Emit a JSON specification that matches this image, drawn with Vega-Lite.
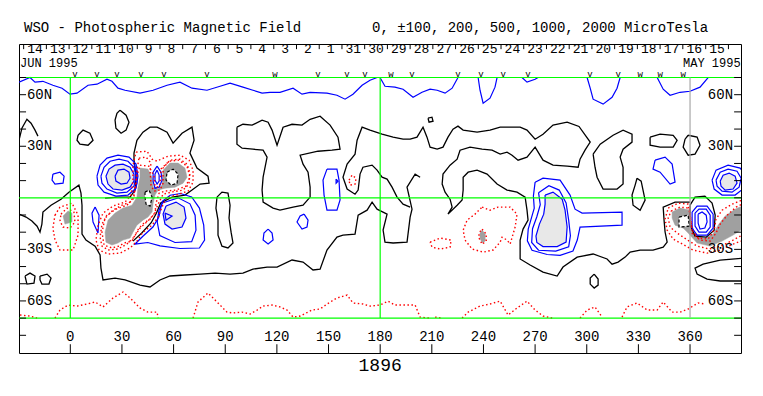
{
"$schema":"https://vega.github.io/schema/vega-lite/v6.json",
"width":722,"height":309,
"autosize":{"type":"none"},
"padding":{"left":19,"top":44,"right":22,"bottom":43},
"background":"white",
"config":{"view":{"stroke":"black","strokeWidth":1},"font":"Liberation Mono"},
"datasets":{
"fills":[
{"c":"G1","f":"d","x":40.5,"y":17.3},{"c":"G1","f":"d","x":45.1,"y":16.7},{"c":"G1","f":"d","x":47.5,"y":12.0},{"c":"G1","f":"d","x":48.1,"y":6.2},{"c":"G1","f":"d","x":51.0,"y":5.1},{"c":"G1","f":"d","x":53.3,"y":7.4},{"c":"G1","f":"d","x":53.9,"y":16.1},{"c":"G1","f":"d","x":57.9,"y":20.2},{"c":"G1","f":"d","x":62.6,"y":20.2},{"c":"G1","f":"d","x":66.6,"y":17.3},{"c":"G1","f":"d","x":67.8,"y":12.0},{"c":"G1","f":"d","x":65.5,"y":8.5},{"c":"G1","f":"d","x":60.8,"y":6.2},{"c":"G1","f":"d","x":55.0,"y":5.6},{"c":"G1","f":"d","x":51.0,"y":4.5},{"c":"G1","f":"d","x":49.2,"y":1.6},{"c":"G1","f":"d","x":48.1,"y":-3.1},{"c":"G1","f":"d","x":47.5,"y":-8.3},{"c":"G1","f":"d","x":45.1,"y":-11.2},{"c":"G1","f":"d","x":42.2,"y":-13.0},{"c":"G1","f":"d","x":38.7,"y":-15.9},{"c":"G1","f":"d","x":36.4,"y":-20.0},{"c":"G1","f":"d","x":34.7,"y":-23.4},{"c":"G1","f":"d","x":30.6,"y":-24.6},{"c":"G1","f":"d","x":27.7,"y":-26.3},{"c":"G1","f":"d","x":24.2,"y":-27.5},{"c":"G1","f":"d","x":20.7,"y":-25.8},{"c":"G1","f":"d","x":20.2,"y":-20.0},{"c":"G1","f":"d","x":21.9,"y":-13.0},{"c":"G1","f":"d","x":26.0,"y":-8.9},{"c":"G1","f":"d","x":30.6,"y":-6.0},{"c":"G1","f":"d","x":35.8,"y":-4.3},{"c":"G1","f":"d","x":38.7,"y":0.4},{"c":"G1","f":"d","x":39.3,"y":6.2},{"c":"G1","f":"d","x":40.5,"y":12.0},{"c":"G1","f":"d","x":40.5,"y":17.3},
{"c":"G2","f":"d","x":-4.2,"y":-10.6},{"c":"G2","f":"d","x":-1.3,"y":-7.7},{"c":"G2","f":"d","x":1.0,"y":-8.9},{"c":"G2","f":"d","x":1.0,"y":-14.1},{"c":"G2","f":"d","x":-3.1,"y":-15.3},{"c":"G2","f":"d","x":-4.2,"y":-10.6},
{"c":"G3","f":"d","x":239.2,"y":-18.8},{"c":"G3","f":"d","x":241.0,"y":-21.1},{"c":"G3","f":"d","x":241.0,"y":-25.2},{"c":"G3","f":"d","x":239.2,"y":-26.3},{"c":"G3","f":"d","x":238.0,"y":-23.4},{"c":"G3","f":"d","x":238.0,"y":-20.5},{"c":"G3","f":"d","x":239.2,"y":-18.8},
{"c":"G4","f":"d","x":349.6,"y":-8.3},{"c":"G4","f":"d","x":354.2,"y":-6.0},{"c":"G4","f":"d","x":360.0,"y":-7.2},{"c":"G4","f":"d","x":360.6,"y":-14.1},{"c":"G4","f":"d","x":362.9,"y":-21.1},{"c":"G4","f":"d","x":368.2,"y":-23.4},{"c":"G4","f":"d","x":373.4,"y":-21.1},{"c":"G4","f":"d","x":376.3,"y":-15.9},{"c":"G4","f":"d","x":380.4,"y":-10.6},{"c":"G4","f":"d","x":386.2,"y":-6.6},{"c":"G4","f":"d","x":391.4,"y":-4.3},{"c":"G4","f":"d","x":391.4,"y":-17.6},{"c":"G4","f":"d","x":385.0,"y":-21.7},{"c":"G4","f":"d","x":378.6,"y":-25.2},{"c":"G4","f":"d","x":371.7,"y":-28.1},{"c":"G4","f":"d","x":364.1,"y":-26.3},{"c":"G4","f":"d","x":358.9,"y":-20.5},{"c":"G4","f":"d","x":356.0,"y":-17.6},{"c":"G4","f":"d","x":351.3,"y":-15.9},{"c":"G4","f":"d","x":349.6,"y":-11.8},{"c":"G4","f":"d","x":349.6,"y":-8.3},
{"c":"LF1","f":"l","x":275.8,"y":1.6},{"c":"LF1","f":"l","x":280.4,"y":3.3},{"c":"LF1","f":"l","x":285.7,"y":-0.8},{"c":"LF1","f":"l","x":287.4,"y":-7.2},{"c":"LF1","f":"l","x":288.6,"y":-17.0},{"c":"LF1","f":"l","x":288.0,"y":-25.8},{"c":"LF1","f":"l","x":282.8,"y":-28.4},{"c":"LF1","f":"l","x":274.6,"y":-28.4},{"c":"LF1","f":"l","x":271.0,"y":-26.0},{"c":"LF1","f":"l","x":270.5,"y":-22.3},{"c":"LF1","f":"l","x":272.5,"y":-15.3},{"c":"LF1","f":"l","x":275.0,"y":-9.5},{"c":"LF1","f":"l","x":275.8,"y":-3.7},{"c":"LF1","f":"l","x":275.8,"y":1.6},
{"c":"LF2","f":"l","x":20.7,"y":12.6},{"c":"LF2","f":"l","x":22.5,"y":16.7},{"c":"LF2","f":"l","x":26.0,"y":19.0},{"c":"LF2","f":"l","x":30.6,"y":19.6},{"c":"LF2","f":"l","x":34.7,"y":17.8},{"c":"LF2","f":"l","x":37.0,"y":13.8},{"c":"LF2","f":"l","x":37.0,"y":9.7},{"c":"LF2","f":"l","x":34.7,"y":6.2},{"c":"LF2","f":"l","x":30.0,"y":4.5},{"c":"LF2","f":"l","x":24.8,"y":5.1},{"c":"LF2","f":"l","x":21.9,"y":8.0},{"c":"LF2","f":"l","x":20.7,"y":12.6},
{"c":"LF3","f":"l","x":55.6,"y":-4.8},{"c":"LF3","f":"l","x":61.4,"y":-2.5},{"c":"LF3","f":"l","x":66.1,"y":-5.4},{"c":"LF3","f":"l","x":67.2,"y":-11.8},{"c":"LF3","f":"l","x":64.9,"y":-17.0},{"c":"LF3","f":"l","x":59.1,"y":-18.2},{"c":"LF3","f":"l","x":55.0,"y":-15.3},{"c":"LF3","f":"l","x":53.9,"y":-9.5},{"c":"LF3","f":"l","x":55.6,"y":-4.8},
{"c":"LF4","f":"l","x":377.5,"y":9.7},{"c":"LF4","f":"l","x":379.2,"y":13.2},{"c":"LF4","f":"l","x":382.7,"y":14.4},{"c":"LF4","f":"l","x":386.2,"y":12.6},{"c":"LF4","f":"l","x":387.3,"y":8.5},{"c":"LF4","f":"l","x":385.0,"y":5.1},{"c":"LF4","f":"l","x":380.4,"y":4.5},{"c":"LF4","f":"l","x":378.0,"y":6.8},{"c":"LF4","f":"l","x":377.5,"y":9.7},
{"c":"D1","f":"w","x":43.4,"y":3.3},{"c":"D1","f":"w","x":45.7,"y":4.5},{"c":"D1","f":"w","x":47.5,"y":0.4},{"c":"D1","f":"w","x":46.3,"y":-4.8},{"c":"D1","f":"w","x":44.0,"y":-3.7},{"c":"D1","f":"w","x":43.4,"y":0.4},{"c":"D1","f":"w","x":43.4,"y":3.3},
{"c":"D2","f":"w","x":56.2,"y":14.9},{"c":"D2","f":"w","x":59.7,"y":16.7},{"c":"D2","f":"w","x":62.6,"y":13.8},{"c":"D2","f":"w","x":62.0,"y":8.5},{"c":"D2","f":"w","x":58.5,"y":7.4},{"c":"D2","f":"w","x":55.6,"y":10.3},{"c":"D2","f":"w","x":56.2,"y":14.9},
{"c":"D3","f":"w","x":353.6,"y":-11.2},{"c":"D3","f":"w","x":358.9,"y":-10.1},{"c":"D3","f":"w","x":359.5,"y":-16.5},{"c":"D3","f":"w","x":353.6,"y":-17.0},{"c":"D3","f":"w","x":353.6,"y":-11.2}
],
"lines":[
{"c":"B1","k":"b","x":-29.8,"y":67.3},{"c":"B1","k":"b","x":-23.4,"y":70.0},{"c":"B1","k":"b","x":-20.5,"y":67.3},{"c":"B1","k":"b","x":-15.9,"y":67.8},{"c":"B1","k":"b","x":-10.1,"y":65.5},{"c":"B1","k":"b","x":-4.8,"y":63.8},{"c":"B1","k":"b","x":-0.2,"y":60.3},{"c":"B1","k":"b","x":3.9,"y":60.9},{"c":"B1","k":"b","x":10.3,"y":65.5},{"c":"B1","k":"b","x":15.5,"y":66.1},{"c":"B1","k":"b","x":21.3,"y":69.0},{"c":"B1","k":"b","x":24.2,"y":67.8},{"c":"B1","k":"b","x":27.7,"y":63.8},{"c":"B1","k":"b","x":31.8,"y":62.6},{"c":"B1","k":"b","x":40.5,"y":60.9},{"c":"B1","k":"b","x":48.1,"y":62.6},{"c":"B1","k":"b","x":56.2,"y":65.5},{"c":"B1","k":"b","x":63.7,"y":67.3},{"c":"B1","k":"b","x":70.7,"y":63.8},{"c":"B1","k":"b","x":79.4,"y":62.6},{"c":"B1","k":"b","x":87.0,"y":64.9},{"c":"B1","k":"b","x":92.8,"y":66.7},{"c":"B1","k":"b","x":100.3,"y":64.4},{"c":"B1","k":"b","x":106.1,"y":62.6},{"c":"B1","k":"b","x":111.4,"y":60.9},{"c":"B1","k":"b","x":116.0,"y":61.4},{"c":"B1","k":"b","x":121.8,"y":61.4},{"c":"B1","k":"b","x":129.4,"y":63.8},{"c":"B1","k":"b","x":134.6,"y":60.3},{"c":"B1","k":"b","x":139.3,"y":61.4},{"c":"B1","k":"b","x":149.1,"y":60.9},{"c":"B1","k":"b","x":154.9,"y":59.7},{"c":"B1","k":"b","x":159.6,"y":57.4},{"c":"B1","k":"b","x":164.2,"y":60.3},{"c":"B1","k":"b","x":169.5,"y":65.5},{"c":"B1","k":"b","x":174.1,"y":68.4},{"c":"B1","k":"b","x":178.2,"y":70.0},
{"c":"B2","k":"b","x":179.9,"y":70},{"c":"B2","k":"b","x":182.8,"y":64.9},{"c":"B2","k":"b","x":188.6,"y":64.4},{"c":"B2","k":"b","x":193.3,"y":63.2},{"c":"B2","k":"b","x":199.1,"y":58.5},{"c":"B2","k":"b","x":204.3,"y":61.4},{"c":"B2","k":"b","x":209.0,"y":63.2},{"c":"B2","k":"b","x":213.1,"y":62.6},{"c":"B2","k":"b","x":217.7,"y":60.9},{"c":"B2","k":"b","x":221.8,"y":63.8},{"c":"B2","k":"b","x":225.2,"y":70},
{"c":"B3","k":"b","x":236.9,"y":70},{"c":"B3","k":"b","x":238.0,"y":62.6},{"c":"B3","k":"b","x":239.8,"y":55.1},{"c":"B3","k":"b","x":243.8,"y":58.0},{"c":"B3","k":"b","x":246.7,"y":64.4},{"c":"B3","k":"b","x":247.9,"y":70},
{"c":"B4","k":"b","x":262.4,"y":70},{"c":"B4","k":"b","x":265.3,"y":67.3},{"c":"B4","k":"b","x":270.0,"y":69.0},{"c":"B4","k":"b","x":271.7,"y":70},
{"c":"B5","k":"b","x":300.2,"y":70},{"c":"B5","k":"b","x":302.0,"y":63.8},{"c":"B5","k":"b","x":303.7,"y":57.4},{"c":"B5","k":"b","x":309.5,"y":54.5},{"c":"B5","k":"b","x":314.7,"y":58.5},{"c":"B5","k":"b","x":317.6,"y":63.8},{"c":"B5","k":"b","x":319.4,"y":70},
{"c":"B6","k":"b","x":340.9,"y":70},{"c":"B6","k":"b","x":344.4,"y":63.2},{"c":"B6","k":"b","x":348.4,"y":59.7},{"c":"B6","k":"b","x":354.2,"y":61.4},{"c":"B6","k":"b","x":360.0,"y":62.0},{"c":"B6","k":"b","x":365.8,"y":64.4},{"c":"B6","k":"b","x":370.5,"y":70},
{"c":"B7","k":"b","x":-10.1,"y":13.8},{"c":"B7","k":"b","x":-6.0,"y":14.9},{"c":"B7","k":"b","x":-3.6,"y":12.6},{"c":"B7","k":"b","x":-4.2,"y":8.5},{"c":"B7","k":"b","x":-8.9,"y":8.0},{"c":"B7","k":"b","x":-10.6,"y":10.3},{"c":"B7","k":"b","x":-10.1,"y":13.8},
{"c":"B8","k":"b","x":14.4,"y":-5.4},{"c":"B8","k":"b","x":16.7,"y":-10.1},{"c":"B8","k":"b","x":16.1,"y":-20.5},{"c":"B8","k":"b","x":13.2,"y":-14.1},{"c":"B8","k":"b","x":12.6,"y":-8.9},{"c":"B8","k":"b","x":14.4,"y":-5.4},
{"c":"B9","k":"b","x":114.9,"y":-18.2},{"c":"B9","k":"b","x":117.2,"y":-20.5},{"c":"B9","k":"b","x":117.8,"y":-24.6},{"c":"B9","k":"b","x":114.9,"y":-26.9},{"c":"B9","k":"b","x":112.0,"y":-24.6},{"c":"B9","k":"b","x":112.5,"y":-20.5},{"c":"B9","k":"b","x":114.9,"y":-18.2},
{"c":"B10","k":"b","x":135.8,"y":-9.5},{"c":"B10","k":"b","x":138.1,"y":-13.0},{"c":"B10","k":"b","x":137.5,"y":-17.0},{"c":"B10","k":"b","x":134.6,"y":-18.2},{"c":"B10","k":"b","x":131.7,"y":-14.1},{"c":"B10","k":"b","x":133.5,"y":-10.6},{"c":"B10","k":"b","x":135.8,"y":-9.5},
{"c":"B11","k":"b","x":149.1,"y":16.7},{"c":"B11","k":"b","x":154.9,"y":16.7},{"c":"B11","k":"b","x":156.1,"y":10.3},{"c":"B11","k":"b","x":156.7,"y":-1.3},{"c":"B11","k":"b","x":154.9,"y":-7.2},{"c":"B11","k":"b","x":149.1,"y":-7.2},{"c":"B11","k":"b","x":147.4,"y":1.6},{"c":"B11","k":"b","x":146.8,"y":10.3},{"c":"B11","k":"b","x":149.1,"y":16.7},
{"c":"B11b","k":"b","x":154.4,"y":10.9},{"c":"B11b","k":"b","x":155.5,"y":9.7},{"c":"B11b","k":"b","x":154.4,"y":8.5},{"c":"B11b","k":"b","x":154.4,"y":10.9},
{"c":"B12","k":"b","x":339.7,"y":21.9},{"c":"B12","k":"b","x":345.5,"y":23.7},{"c":"B12","k":"b","x":349.6,"y":19.6},{"c":"B12","k":"b","x":351.3,"y":9.1},{"c":"B12","k":"b","x":348.4,"y":8.0},{"c":"B12","k":"b","x":342.6,"y":14.9},{"c":"B12","k":"b","x":338.5,"y":16.7},{"c":"B12","k":"b","x":339.7,"y":21.9},
{"c":"B13","k":"b","x":270.0,"y":9.1},{"c":"B13","k":"b","x":274.6,"y":11.4},{"c":"B13","k":"b","x":284.5,"y":10.3},{"c":"B13","k":"b","x":290.3,"y":1.6},{"c":"B13","k":"b","x":293.2,"y":-6.6},{"c":"B13","k":"b","x":297.3,"y":-8.9},{"c":"B13","k":"b","x":320.5,"y":-8.3},{"c":"B13","k":"b","x":320.5,"y":-15.9},{"c":"B13","k":"b","x":296.1,"y":-17.0},{"c":"B13","k":"b","x":294.5,"y":-24.6},{"c":"B13","k":"b","x":292.0,"y":-31.0},{"c":"B13","k":"b","x":284.5,"y":-33.5},{"c":"B13","k":"b","x":277.0,"y":-33.0},{"c":"B13","k":"b","x":268.2,"y":-30.5},{"c":"B13","k":"b","x":265.5,"y":-25.0},{"c":"B13","k":"b","x":266.0,"y":-18.2},{"c":"B13","k":"b","x":268.0,"y":-11.2},{"c":"B13","k":"b","x":269.5,"y":-6.0},{"c":"B13","k":"b","x":269.0,"y":1.0},{"c":"B13","k":"b","x":270.0,"y":9.1},
{"c":"B14","k":"b","x":272.0,"y":3.0},{"c":"B14","k":"b","x":278.0,"y":7.0},{"c":"B14","k":"b","x":284.0,"y":4.5},{"c":"B14","k":"b","x":288.0,"y":-3.0},{"c":"B14","k":"b","x":289.5,"y":-13.0},{"c":"B14","k":"b","x":290.5,"y":-22.0},{"c":"B14","k":"b","x":289.5,"y":-28.5},{"c":"B14","k":"b","x":282.0,"y":-31.0},{"c":"B14","k":"b","x":272.0,"y":-30.5},{"c":"B14","k":"b","x":268.0,"y":-26.0},{"c":"B14","k":"b","x":268.5,"y":-18.0},{"c":"B14","k":"b","x":271.0,"y":-11.0},{"c":"B14","k":"b","x":273.0,"y":-4.0},{"c":"B14","k":"b","x":272.0,"y":3.0},
{"c":"L1","k":"b","x":15.5,"y":12.6},{"c":"L1","k":"b","x":17.3,"y":19.0},{"c":"L1","k":"b","x":21.3,"y":23.1},{"c":"L1","k":"b","x":27.7,"y":24.8},{"c":"L1","k":"b","x":34.1,"y":23.7},{"c":"L1","k":"b","x":38.2,"y":19.6},{"c":"L1","k":"b","x":39.3,"y":12.6},{"c":"L1","k":"b","x":38.2,"y":5.6},{"c":"L1","k":"b","x":33.5,"y":1.6},{"c":"L1","k":"b","x":26.5,"y":1.0},{"c":"L1","k":"b","x":19.6,"y":3.3},{"c":"L1","k":"b","x":16.1,"y":7.4},{"c":"L1","k":"b","x":15.5,"y":12.6},
{"c":"L2","k":"b","x":17.8,"y":12.6},{"c":"L2","k":"b","x":19.6,"y":17.8},{"c":"L2","k":"b","x":23.1,"y":21.3},{"c":"L2","k":"b","x":28.3,"y":22.5},{"c":"L2","k":"b","x":33.5,"y":21.3},{"c":"L2","k":"b","x":37.0,"y":17.8},{"c":"L2","k":"b","x":38.2,"y":12.6},{"c":"L2","k":"b","x":37.0,"y":6.8},{"c":"L2","k":"b","x":32.9,"y":3.3},{"c":"L2","k":"b","x":27.1,"y":2.7},{"c":"L2","k":"b","x":21.3,"y":5.1},{"c":"L2","k":"b","x":18.4,"y":8.5},{"c":"L2","k":"b","x":17.8,"y":12.6},
{"c":"L4","k":"b","x":26.0,"y":12.6},{"c":"L4","k":"b","x":27.7,"y":16.1},{"c":"L4","k":"b","x":31.2,"y":16.7},{"c":"L4","k":"b","x":34.1,"y":14.9},{"c":"L4","k":"b","x":34.7,"y":11.4},{"c":"L4","k":"b","x":32.9,"y":8.5},{"c":"L4","k":"b","x":29.5,"y":8.0},{"c":"L4","k":"b","x":26.5,"y":9.7},{"c":"L4","k":"b","x":26.0,"y":12.6},
{"c":"C1","k":"b","x":37.0,"y":19.6},{"c":"C1","k":"b","x":38.7,"y":14.4},{"c":"C1","k":"b","x":38.7,"y":8.5},{"c":"C1","k":"b","x":37.0,"y":2.7},
{"c":"LN1","k":"b","x":50.4,"y":18.4},{"c":"LN1","k":"b","x":52.7,"y":14.9},{"c":"LN1","k":"b","x":53.3,"y":10.3},{"c":"LN1","k":"b","x":51.6,"y":6.2},{"c":"LN1","k":"b","x":49.2,"y":5.6},{"c":"LN1","k":"b","x":48.1,"y":9.7},{"c":"LN1","k":"b","x":48.1,"y":14.9},{"c":"LN1","k":"b","x":50.4,"y":18.4},
{"c":"LN2","k":"b","x":50.4,"y":16.1},{"c":"LN2","k":"b","x":51.6,"y":13.2},{"c":"LN2","k":"b","x":51.6,"y":9.7},{"c":"LN2","k":"b","x":50.4,"y":8.0},{"c":"LN2","k":"b","x":49.2,"y":10.3},{"c":"LN2","k":"b","x":49.2,"y":13.8},{"c":"LN2","k":"b","x":50.4,"y":16.1},
{"c":"S1","k":"b","x":53.5,"y":-2.0},{"c":"S1","k":"b","x":58.0,"y":1.5},{"c":"S1","k":"b","x":64.0,"y":2.5},{"c":"S1","k":"b","x":70.5,"y":0.5},{"c":"S1","k":"b","x":75.0,"y":-6.0},{"c":"S1","k":"b","x":77.5,"y":-15.9},{"c":"S1","k":"b","x":78.0,"y":-24.6},{"c":"S1","k":"b","x":75.0,"y":-29.2},{"c":"S1","k":"b","x":63.7,"y":-29.5},{"c":"S1","k":"b","x":52.1,"y":-28.0},{"c":"S1","k":"b","x":45.0,"y":-26.0},{"c":"S1","k":"b","x":37.5,"y":-27.0},{"c":"S1","k":"b","x":42.0,"y":-22.5},{"c":"S1","k":"b","x":48.0,"y":-17.0},{"c":"S1","k":"b","x":51.5,"y":-11.0},{"c":"S1","k":"b","x":52.5,"y":-6.0},{"c":"S1","k":"b","x":53.5,"y":-2.0},
{"c":"S2","k":"b","x":53.5,"y":-3.0},{"c":"S2","k":"b","x":62.6,"y":0.0},{"c":"S2","k":"b","x":69.5,"y":-3.5},{"c":"S2","k":"b","x":72.5,"y":-10.1},{"c":"S2","k":"b","x":73.0,"y":-18.8},{"c":"S2","k":"b","x":70.5,"y":-25.5},{"c":"S2","k":"b","x":60.8,"y":-26.0},{"c":"S2","k":"b","x":52.0,"y":-22.0},{"c":"S2","k":"b","x":50.5,"y":-14.1},{"c":"S2","k":"b","x":51.5,"y":-7.2},{"c":"S2","k":"b","x":53.5,"y":-3.0},
{"c":"S4","k":"b","x":55.0,"y":-8.9},{"c":"S4","k":"b","x":59.1,"y":-10.6},{"c":"S4","k":"b","x":55.6,"y":-13.0},{"c":"S4","k":"b","x":55.0,"y":-8.9},
{"c":"O1","k":"b","x":361.2,"y":-8.3},{"c":"O1","k":"b","x":364.1,"y":-4.8},{"c":"O1","k":"b","x":369.9,"y":-4.8},{"c":"O1","k":"b","x":373.4,"y":-9.5},{"c":"O1","k":"b","x":373.4,"y":-17.6},{"c":"O1","k":"b","x":369.9,"y":-21.7},{"c":"O1","k":"b","x":364.1,"y":-21.7},{"c":"O1","k":"b","x":361.2,"y":-17.6},{"c":"O1","k":"b","x":361.2,"y":-8.3},
{"c":"O2","k":"b","x":362.9,"y":-8.9},{"c":"O2","k":"b","x":365.2,"y":-6.6},{"c":"O2","k":"b","x":369.4,"y":-6.6},{"c":"O2","k":"b","x":371.7,"y":-10.1},{"c":"O2","k":"b","x":371.7,"y":-17.0},{"c":"O2","k":"b","x":369.4,"y":-20.0},{"c":"O2","k":"b","x":365.2,"y":-20.0},{"c":"O2","k":"b","x":362.9,"y":-16.5},{"c":"O2","k":"b","x":362.9,"y":-8.9},
{"c":"O3","k":"b","x":364.7,"y":-9.5},{"c":"O3","k":"b","x":367.0,"y":-8.3},{"c":"O3","k":"b","x":369.4,"y":-10.1},{"c":"O3","k":"b","x":369.9,"y":-14.1},{"c":"O3","k":"b","x":368.6,"y":-17.6},{"c":"O3","k":"b","x":365.8,"y":-18.2},{"c":"O3","k":"b","x":364.7,"y":-14.7},{"c":"O3","k":"b","x":364.7,"y":-9.5},
{"c":"E1","k":"b","x":372.8,"y":10.3},{"c":"E1","k":"b","x":375.1,"y":16.1},{"c":"E1","k":"b","x":382.1,"y":19.0},{"c":"E1","k":"b","x":389.1,"y":17.3},{"c":"E1","k":"b","x":392.6,"y":12.6},{"c":"E1","k":"b","x":391.4,"y":5.6},{"c":"E1","k":"b","x":386.2,"y":1.6},{"c":"E1","k":"b","x":378.6,"y":1.6},{"c":"E1","k":"b","x":374.0,"y":5.1},{"c":"E1","k":"b","x":372.8,"y":10.3},
{"c":"E2","k":"b","x":375.1,"y":10.3},{"c":"E2","k":"b","x":377.5,"y":14.9},{"c":"E2","k":"b","x":382.1,"y":16.7},{"c":"E2","k":"b","x":387.3,"y":15.5},{"c":"E2","k":"b","x":389.7,"y":11.4},{"c":"E2","k":"b","x":388.5,"y":6.2},{"c":"E2","k":"b","x":384.4,"y":3.3},{"c":"E2","k":"b","x":378.6,"y":3.9},{"c":"E2","k":"b","x":375.7,"y":6.8},{"c":"E2","k":"b","x":375.1,"y":10.3},
{"c":"KA","k":"k","x":-29.8,"y":33.5},{"c":"KA","k":"k","x":-28.1,"y":40.5},{"c":"KA","k":"k","x":-25.2,"y":45.7},{"c":"KA","k":"k","x":-22.8,"y":43.4},{"c":"KA","k":"k","x":-20.5,"y":39.4},{"c":"KA","k":"k","x":-18.8,"y":35.9},
{"c":"KB","k":"k","x":4.5,"y":36.4},{"c":"KB","k":"k","x":7.4,"y":39.4},{"c":"KB","k":"k","x":11.4,"y":37.6},{"c":"KB","k":"k","x":13.2,"y":33.5},{"c":"KB","k":"k","x":10.3,"y":30.6},{"c":"KB","k":"k","x":5.6,"y":31.2},{"c":"KB","k":"k","x":3.9,"y":33.5},{"c":"KB","k":"k","x":4.5,"y":36.4},
{"c":"KC","k":"k","x":28.9,"y":51.0},{"c":"KC","k":"k","x":32.4,"y":48.1},{"c":"KC","k":"k","x":34.1,"y":44.0},{"c":"KC","k":"k","x":32.4,"y":39.4},{"c":"KC","k":"k","x":29.5,"y":37.6},{"c":"KC","k":"k","x":26.5,"y":40.5},{"c":"KC","k":"k","x":26.0,"y":45.2},{"c":"KC","k":"k","x":27.1,"y":49.2},{"c":"KC","k":"k","x":28.9,"y":51.0},
{"c":"KD1","k":"k","x":-26.3,"y":-45.5},{"c":"KD1","k":"k","x":-23.4,"y":-43.8},{"c":"KD1","k":"k","x":-20.5,"y":-45.5},{"c":"KD1","k":"k","x":-21.1,"y":-49.6},{"c":"KD1","k":"k","x":-25.2,"y":-50.2},{"c":"KD1","k":"k","x":-26.3,"y":-45.5},
{"c":"KD2","k":"k","x":-17.6,"y":-45.5},{"c":"KD2","k":"k","x":-13.5,"y":-44.4},{"c":"KD2","k":"k","x":-11.2,"y":-46.7},{"c":"KD2","k":"k","x":-12.4,"y":-50.2},{"c":"KD2","k":"k","x":-16.5,"y":-50.2},{"c":"KD2","k":"k","x":-17.6,"y":-47.8},{"c":"KD2","k":"k","x":-17.6,"y":-45.5},
{"c":"KE","k":"k","x":-29.8,"y":-9.5},{"c":"KE","k":"k","x":-25.7,"y":-11.2},{"c":"KE","k":"k","x":-22.3,"y":-13.5},{"c":"KE","k":"k","x":-19.3,"y":-16.5},{"c":"KE","k":"k","x":-17.6,"y":-20.0},{"c":"KE","k":"k","x":-16.5,"y":-15.3},{"c":"KE","k":"k","x":-15.9,"y":-8.3},{"c":"KE","k":"k","x":-11.2,"y":-4.3},{"c":"KE","k":"k","x":-5.4,"y":-0.8},{"c":"KE","k":"k","x":-0.8,"y":3.3},{"c":"KE","k":"k","x":5.0,"y":7.4},{"c":"KE","k":"k","x":6.2,"y":2.7},{"c":"KE","k":"k","x":6.8,"y":-4.3},{"c":"KE","k":"k","x":6.8,"y":-13.0},{"c":"KE","k":"k","x":6.8,"y":-21.1},{"c":"KE","k":"k","x":9.1,"y":-24.6},{"c":"KE","k":"k","x":14.4,"y":-28.1},{"c":"KE","k":"k","x":17.3,"y":-33.3},{"c":"KE","k":"k","x":17.8,"y":-40.9},{"c":"KE","k":"k","x":19.0,"y":-47.8},{"c":"KE","k":"k","x":26.0,"y":-46.7},{"c":"KE","k":"k","x":31.8,"y":-47.8},{"c":"KE","k":"k","x":40.5,"y":-50.8},{"c":"KE","k":"k","x":46.3,"y":-51.9},{"c":"KE","k":"k","x":52.1,"y":-47.8},{"c":"KE","k":"k","x":57.9,"y":-45.5},{"c":"KE","k":"k","x":66.6,"y":-44.9},{"c":"KE","k":"k","x":75.4,"y":-44.4},{"c":"KE","k":"k","x":84.1,"y":-43.8},{"c":"KE","k":"k","x":92.8,"y":-44.4},{"c":"KE","k":"k","x":100.3,"y":-43.8},{"c":"KE","k":"k","x":106.1,"y":-41.5},{"c":"KE","k":"k","x":114.3,"y":-40.3},{"c":"KE","k":"k","x":120.1,"y":-40.3},{"c":"KE","k":"k","x":128.8,"y":-36.2},{"c":"KE","k":"k","x":135.2,"y":-37.4},{"c":"KE","k":"k","x":141.0,"y":-42.0},{"c":"KE","k":"k","x":145.1,"y":-41.5},{"c":"KE","k":"k","x":149.1,"y":-30.4},{"c":"KE","k":"k","x":154.9,"y":-22.9},{"c":"KE","k":"k","x":158.4,"y":-21.7},{"c":"KE","k":"k","x":165.4,"y":-21.1},{"c":"KE","k":"k","x":167.2,"y":-10.1},{"c":"KE","k":"k","x":172.4,"y":-7.2},{"c":"KE","k":"k","x":175.3,"y":-2.5},{"c":"KE","k":"k","x":178.2,"y":-6.6},{"c":"KE","k":"k","x":184.0,"y":-9.5},{"c":"KE","k":"k","x":181.7,"y":-18.8},{"c":"KE","k":"k","x":182.8,"y":-25.8},{"c":"KE","k":"k","x":187.5,"y":-26.3},{"c":"KE","k":"k","x":195.6,"y":-25.8},{"c":"KE","k":"k","x":197.4,"y":-11.2},{"c":"KE","k":"k","x":198.5,"y":-6.6},{"c":"KE","k":"k","x":195.6,"y":6.2},{"c":"KE","k":"k","x":200.3,"y":13.8},{"c":"KE","k":"k","x":203.2,"y":12.0},
{"c":"K1","k":"k","x":96.8,"y":41.1},{"c":"K1","k":"k","x":100.3,"y":42.8},{"c":"K1","k":"k","x":105.6,"y":42.3},{"c":"K1","k":"k","x":111.4,"y":45.2},{"c":"K1","k":"k","x":114.9,"y":44.0},{"c":"K1","k":"k","x":117.2,"y":39.4},{"c":"K1","k":"k","x":120.1,"y":30.6},{"c":"K1","k":"k","x":123.6,"y":41.1},{"c":"K1","k":"k","x":128.8,"y":42.8},{"c":"K1","k":"k","x":134.6,"y":42.3},{"c":"K1","k":"k","x":139.3,"y":45.7},{"c":"K1","k":"k","x":145.1,"y":47.5},{"c":"K1","k":"k","x":150.9,"y":42.3},{"c":"K1","k":"k","x":155.5,"y":35.3},{"c":"K1","k":"k","x":156.7,"y":28.3},{"c":"K1","k":"k","x":152.0,"y":27.7},{"c":"K1","k":"k","x":143.9,"y":27.1},{"c":"K1","k":"k","x":133.5,"y":24.8},{"c":"K1","k":"k","x":135.2,"y":19.6},{"c":"K1","k":"k","x":138.1,"y":14.9},{"c":"K1","k":"k","x":139.3,"y":6.2},{"c":"K1","k":"k","x":139.3,"y":0.4},{"c":"K1","k":"k","x":135.2,"y":-4.3},{"c":"K1","k":"k","x":129.4,"y":-5.4},{"c":"K1","k":"k","x":121.8,"y":-7.2},{"c":"K1","k":"k","x":117.8,"y":-6.0},{"c":"K1","k":"k","x":112.0,"y":-2.5},{"c":"K1","k":"k","x":111.4,"y":4.5},{"c":"K1","k":"k","x":112.0,"y":12.0},{"c":"K1","k":"k","x":114.3,"y":23.7},{"c":"K1","k":"k","x":112.0,"y":27.7},{"c":"K1","k":"k","x":106.1,"y":28.3},{"c":"K1","k":"k","x":99.8,"y":28.9},{"c":"K1","k":"k","x":96.8,"y":31.2},{"c":"K1","k":"k","x":96.8,"y":37.0},{"c":"K1","k":"k","x":96.8,"y":41.1},
{"c":"KF","k":"k","x":20.2,"y":-0.2},{"c":"KF","k":"k","x":27.7,"y":0.4},{"c":"KF","k":"k","x":34.7,"y":0.4},{"c":"KF","k":"k","x":37.6,"y":4.5},{"c":"KF","k":"k","x":38.2,"y":13.2},{"c":"KF","k":"k","x":37.0,"y":21.9},{"c":"KF","k":"k","x":37.0,"y":26.0},{"c":"KF","k":"k","x":38.7,"y":33.5},{"c":"KF","k":"k","x":42.2,"y":38.2},{"c":"KF","k":"k","x":46.3,"y":41.1},{"c":"KF","k":"k","x":50.4,"y":41.1},{"c":"KF","k":"k","x":56.2,"y":38.2},{"c":"KF","k":"k","x":59.7,"y":31.8},{"c":"KF","k":"k","x":64.9,"y":37.6},{"c":"KF","k":"k","x":70.7,"y":41.1},{"c":"KF","k":"k","x":71.9,"y":33.5},{"c":"KF","k":"k","x":69.5,"y":26.0},{"c":"KF","k":"k","x":73.6,"y":17.3},{"c":"KF","k":"k","x":80.0,"y":12.6},{"c":"KF","k":"k","x":80.6,"y":8.5},{"c":"KF","k":"k","x":75.4,"y":8.0},{"c":"KF","k":"k","x":70.7,"y":4.5},{"c":"KF","k":"k","x":66.6,"y":1.6},{"c":"KF","k":"k","x":59.1,"y":0.4},{"c":"KF","k":"k","x":52.5,"y":-3.0},{"c":"KF","k":"k","x":50.0,"y":-9.0},{"c":"KF","k":"k","x":47.0,"y":-14.5},{"c":"KF","k":"k","x":41.5,"y":-20.5},{"c":"KF","k":"k","x":36.4,"y":-25.2},
{"c":"KH","k":"k","x":85.2,"y":0.4},{"c":"KH","k":"k","x":88.1,"y":3.3},{"c":"KH","k":"k","x":91.6,"y":2.7},{"c":"KH","k":"k","x":92.8,"y":-4.3},{"c":"KH","k":"k","x":92.2,"y":-11.8},{"c":"KH","k":"k","x":93.4,"y":-20.0},{"c":"KH","k":"k","x":94.5,"y":-26.3},{"c":"KH","k":"k","x":91.6,"y":-29.2},{"c":"KH","k":"k","x":88.1,"y":-28.1},{"c":"KH","k":"k","x":85.8,"y":-21.7},{"c":"KH","k":"k","x":85.8,"y":-13.0},{"c":"KH","k":"k","x":84.6,"y":-6.0},{"c":"KH","k":"k","x":85.2,"y":0.4},
{"c":"K2","k":"k","x":197.4,"y":-5.4},{"c":"K2","k":"k","x":193.3,"y":-3.7},{"c":"K2","k":"k","x":189.8,"y":0.4},{"c":"K2","k":"k","x":186.9,"y":6.2},{"c":"K2","k":"k","x":184.0,"y":10.9},{"c":"K2","k":"k","x":181.1,"y":12.0},{"c":"K2","k":"k","x":178.2,"y":16.1},{"c":"K2","k":"k","x":175.3,"y":19.0},{"c":"K2","k":"k","x":170.0,"y":17.8},{"c":"K2","k":"k","x":168.3,"y":13.8},{"c":"K2","k":"k","x":167.2,"y":4.5},{"c":"K2","k":"k","x":165.4,"y":2.1},{"c":"K2","k":"k","x":160.8,"y":5.1},{"c":"K2","k":"k","x":158.4,"y":12.0},{"c":"K2","k":"k","x":160.8,"y":19.6},{"c":"K2","k":"k","x":165.4,"y":25.4},{"c":"K2","k":"k","x":166.6,"y":33.5},{"c":"K2","k":"k","x":169.5,"y":41.1},{"c":"K2","k":"k","x":174.1,"y":39.4},{"c":"K2","k":"k","x":181.1,"y":37.0},{"c":"K2","k":"k","x":187.5,"y":35.3},{"c":"K2","k":"k","x":193.3,"y":34.1},{"c":"K2","k":"k","x":197.4,"y":34.1},{"c":"K2","k":"k","x":201.4,"y":35.3},{"c":"K2","k":"k","x":204.9,"y":41.1},{"c":"K2","k":"k","x":207.2,"y":35.3},{"c":"K2","k":"k","x":209.0,"y":29.5},{"c":"K2","k":"k","x":213.1,"y":28.3},{"c":"K2","k":"k","x":216.5,"y":29.5},{"c":"K2","k":"k","x":219.4,"y":35.3},{"c":"K2","k":"k","x":222.3,"y":39.9},{"c":"K2","k":"k","x":225.2,"y":41.7},{"c":"K2","k":"k","x":228.2,"y":39.4},{"c":"K2","k":"k","x":236.3,"y":38.2},{"c":"K2","k":"k","x":243.8,"y":39.4},{"c":"K2","k":"k","x":249.7,"y":41.1},{"c":"K2","k":"k","x":255.5,"y":41.1},{"c":"K2","k":"k","x":261.3,"y":41.1},{"c":"K2","k":"k","x":265.3,"y":39.4},{"c":"K2","k":"k","x":270.0,"y":34.1},{"c":"K2","k":"k","x":274.6,"y":37.0},{"c":"K2","k":"k","x":280.4,"y":42.3},{"c":"K2","k":"k","x":288.6,"y":44.0},{"c":"K2","k":"k","x":295.5,"y":41.5},{"c":"K2","k":"k","x":302.0,"y":32.4},{"c":"K2","k":"k","x":299.0,"y":27.7},{"c":"K2","k":"k","x":296.1,"y":22.5},{"c":"K2","k":"k","x":295.0,"y":17.8},{"c":"K2","k":"k","x":288.6,"y":18.4},{"c":"K2","k":"k","x":280.4,"y":19.0},{"c":"K2","k":"k","x":274.6,"y":21.9},{"c":"K2","k":"k","x":270.0,"y":29.5},{"c":"K2","k":"k","x":265.3,"y":23.7},{"c":"K2","k":"k","x":260.1,"y":21.9},{"c":"K2","k":"k","x":256.6,"y":24.8},{"c":"K2","k":"k","x":253.7,"y":26.6},{"c":"K2","k":"k","x":249.7,"y":25.4},{"c":"K2","k":"k","x":245.0,"y":27.7},{"c":"K2","k":"k","x":239.2,"y":28.3},{"c":"K2","k":"k","x":232.2,"y":29.5},{"c":"K2","k":"k","x":226.4,"y":27.7},{"c":"K2","k":"k","x":224.7,"y":22.5},{"c":"K2","k":"k","x":220.6,"y":19.0},{"c":"K2","k":"k","x":216.5,"y":13.8},{"c":"K2","k":"k","x":216.0,"y":8.0},{"c":"K2","k":"k","x":217.7,"y":3.3},{"c":"K2","k":"k","x":220.6,"y":-0.8},{"c":"K2","k":"k","x":221.8,"y":-5.4},{"c":"K2","k":"k","x":219.4,"y":-9.5},{"c":"K2","k":"k","x":224.7,"y":-4.3},{"c":"K2","k":"k","x":227.6,"y":-1.3},{"c":"K2","k":"k","x":228.2,"y":4.5},{"c":"K2","k":"k","x":228.2,"y":12.0},{"c":"K2","k":"k","x":231.1,"y":14.9},{"c":"K2","k":"k","x":236.3,"y":16.1},{"c":"K2","k":"k","x":242.1,"y":13.8},{"c":"K2","k":"k","x":247.9,"y":8.0},{"c":"K2","k":"k","x":253.7,"y":4.5},{"c":"K2","k":"k","x":259.5,"y":3.3},{"c":"K2","k":"k","x":264.2,"y":0.4},{"c":"K2","k":"k","x":265.3,"y":-7.2},{"c":"K2","k":"k","x":265.9,"y":-13.0},{"c":"K2","k":"k","x":263.0,"y":-18.2},{"c":"K2","k":"k","x":261.3,"y":-24.6},{"c":"K2","k":"k","x":261.3,"y":-35.6},{"c":"K2","k":"k","x":267.1,"y":-39.1},{"c":"K2","k":"k","x":274.6,"y":-43.2},{"c":"K2","k":"k","x":282.8,"y":-45.5},{"c":"K2","k":"k","x":286.2,"y":-40.3},{"c":"K2","k":"k","x":294.4,"y":-34.5},{"c":"K2","k":"k","x":303.7,"y":-32.7},{"c":"K2","k":"k","x":311.8,"y":-35.6},{"c":"K2","k":"k","x":314.7,"y":-38.6},{"c":"K2","k":"k","x":318.2,"y":-37.4},{"c":"K2","k":"k","x":322.3,"y":-34.5},{"c":"K2","k":"k","x":325.2,"y":-31.6},{"c":"K2","k":"k","x":331.0,"y":-30.4},{"c":"K2","k":"k","x":338.5,"y":-30.4},{"c":"K2","k":"k","x":344.4,"y":-28.7},{"c":"K2","k":"k","x":346.7,"y":-25.8},{"c":"K2","k":"k","x":345.5,"y":-19.9},{"c":"K2","k":"k","x":344.9,"y":-13.0},{"c":"K2","k":"k","x":344.4,"y":-5.4},{"c":"K2","k":"k","x":351.3,"y":-2.5},{"c":"K2","k":"k","x":360.0,"y":-2.5},
{"c":"K4","k":"k","x":303.7,"y":25.4},{"c":"K4","k":"k","x":304.8,"y":17.8},{"c":"K4","k":"k","x":306.0,"y":12.0},{"c":"K4","k":"k","x":309.5,"y":5.1},{"c":"K4","k":"k","x":317.6,"y":5.1},{"c":"K4","k":"k","x":321.1,"y":8.0},{"c":"K4","k":"k","x":321.1,"y":17.8},{"c":"K4","k":"k","x":319.4,"y":23.7},{"c":"K4","k":"k","x":321.1,"y":28.3},{"c":"K4","k":"k","x":326.3,"y":32.4},{"c":"K4","k":"k","x":326.3,"y":37.0},{"c":"K4","k":"k","x":321.1,"y":39.4},{"c":"K4","k":"k","x":315.3,"y":36.4},{"c":"K4","k":"k","x":307.8,"y":31.2},{"c":"K4","k":"k","x":303.7,"y":25.4},
{"c":"K5","k":"k","x":336.8,"y":35.3},{"c":"K5","k":"k","x":342.6,"y":37.0},{"c":"K5","k":"k","x":350.2,"y":36.4},{"c":"K5","k":"k","x":352.5,"y":33.5},{"c":"K5","k":"k","x":350.2,"y":29.5},{"c":"K5","k":"k","x":342.6,"y":29.5},{"c":"K5","k":"k","x":336.8,"y":30.6},{"c":"K5","k":"k","x":336.8,"y":35.3},
{"c":"K6","k":"k","x":358.9,"y":36.4},{"c":"K6","k":"k","x":364.1,"y":35.3},{"c":"K6","k":"k","x":365.8,"y":30.6},{"c":"K6","k":"k","x":362.9,"y":25.4},{"c":"K6","k":"k","x":358.9,"y":24.8},{"c":"K6","k":"k","x":356.0,"y":29.5},{"c":"K6","k":"k","x":357.1,"y":34.1},{"c":"K6","k":"k","x":358.9,"y":36.4},
{"c":"K7","k":"k","x":329.2,"y":11.4},{"c":"K7","k":"k","x":331.6,"y":9.7},{"c":"K7","k":"k","x":333.9,"y":-1.3},{"c":"K7","k":"k","x":331.0,"y":-7.2},{"c":"K7","k":"k","x":326.9,"y":-4.3},{"c":"K7","k":"k","x":326.3,"y":1.6},{"c":"K7","k":"k","x":328.1,"y":7.4},{"c":"K7","k":"k","x":329.2,"y":11.4},
{"c":"K8","k":"k","x":304.3,"y":-44.4},{"c":"K8","k":"k","x":306.6,"y":-47.3},{"c":"K8","k":"k","x":306.6,"y":-50.8},{"c":"K8","k":"k","x":304.3,"y":-52.5},{"c":"K8","k":"k","x":302.0,"y":-50.2},{"c":"K8","k":"k","x":302.0,"y":-46.7},{"c":"K8","k":"k","x":304.3,"y":-44.4},
{"c":"K9","k":"k","x":391.0,"y":-35.1},{"c":"K9","k":"k","x":377.5,"y":-36.2},{"c":"K9","k":"k","x":367.6,"y":-38.6},{"c":"K9","k":"k","x":362.9,"y":-40.9},{"c":"K9","k":"k","x":364.1,"y":-44.4},{"c":"K9","k":"k","x":369.9,"y":-47.3},{"c":"K9","k":"k","x":377.5,"y":-48.4},{"c":"K9","k":"k","x":391.0,"y":-48.4},
{"c":"KO","k":"k","x":360.0,"y":-4.3},{"c":"KO","k":"k","x":362.9,"y":0.4},{"c":"KO","k":"k","x":368.6,"y":1.0},{"c":"KO","k":"k","x":372.8,"y":-3.1},{"c":"KO","k":"k","x":374.6,"y":-10.1},{"c":"KO","k":"k","x":374.0,"y":-18.8},{"c":"KO","k":"k","x":369.4,"y":-22.9},{"c":"KO","k":"k","x":362.9,"y":-22.3},{"c":"KO","k":"k","x":360.0,"y":-15.9},{"c":"KO","k":"k","x":360.0,"y":-4.3},
{"c":"Ksm","k":"k","x":207.8,"y":46.3},{"c":"Ksm","k":"k","x":210.1,"y":46.9},{"c":"Ksm","k":"k","x":210.7,"y":44.6},{"c":"Ksm","k":"k","x":208.4,"y":44.0},{"c":"Ksm","k":"k","x":207.8,"y":46.3},
{"c":"RB0","k":"r","x":-29.2,"y":-68.2},{"c":"RB0","k":"r","x":-23.4,"y":-68.8},{"c":"RB0","k":"r","x":-19.3,"y":-70.0},
{"c":"RB1","k":"r","x":-8.9,"y":-70.0},{"c":"RB1","k":"r","x":-6.0,"y":-65.3},{"c":"RB1","k":"r","x":-1.3,"y":-62.4},{"c":"RB1","k":"r","x":3.9,"y":-63.0},{"c":"RB1","k":"r","x":9.7,"y":-61.8},{"c":"RB1","k":"r","x":14.4,"y":-60.6},{"c":"RB1","k":"r","x":19.0,"y":-63.5},{"c":"RB1","k":"r","x":24.8,"y":-58.3},{"c":"RB1","k":"r","x":30.6,"y":-54.8},{"c":"RB1","k":"r","x":34.7,"y":-58.3},{"c":"RB1","k":"r","x":40.5,"y":-64.1},{"c":"RB1","k":"r","x":45.1,"y":-66.5},{"c":"RB1","k":"r","x":50.4,"y":-66.5},{"c":"RB1","k":"r","x":51.0,"y":-70.0},
{"c":"RB2","k":"r","x":71.3,"y":-70},{"c":"RB2","k":"r","x":74.2,"y":-60.6},{"c":"RB2","k":"r","x":80.0,"y":-55.4},{"c":"RB2","k":"r","x":85.2,"y":-60.6},{"c":"RB2","k":"r","x":91.0,"y":-66.5},{"c":"RB2","k":"r","x":94.5,"y":-67.0},{"c":"RB2","k":"r","x":99.8,"y":-66.5},{"c":"RB2","k":"r","x":104.4,"y":-67.6},{"c":"RB2","k":"r","x":108.5,"y":-65.3},{"c":"RB2","k":"r","x":112.0,"y":-63.0},{"c":"RB2","k":"r","x":117.2,"y":-62.4},{"c":"RB2","k":"r","x":121.8,"y":-63.5},{"c":"RB2","k":"r","x":125.9,"y":-65.3},{"c":"RB2","k":"r","x":129.4,"y":-69.4},{"c":"RB2","k":"r","x":133.5,"y":-68.8},{"c":"RB2","k":"r","x":140.4,"y":-65.3},{"c":"RB2","k":"r","x":145.1,"y":-64.7},{"c":"RB2","k":"r","x":149.1,"y":-61.8},{"c":"RB2","k":"r","x":154.9,"y":-58.3},{"c":"RB2","k":"r","x":160.8,"y":-56.6},{"c":"RB2","k":"r","x":164.2,"y":-61.2},{"c":"RB2","k":"r","x":170.0,"y":-61.8},{"c":"RB2","k":"r","x":174.1,"y":-63.0},{"c":"RB2","k":"r","x":179.9,"y":-62.4},{"c":"RB2","k":"r","x":184.6,"y":-60.1},{"c":"RB2","k":"r","x":188.6,"y":-62.4},{"c":"RB2","k":"r","x":200.3,"y":-62.4},{"c":"RB2","k":"r","x":203.2,"y":-69.4},{"c":"RB2","k":"r","x":209.0,"y":-70},
{"c":"RB3","k":"r","x":211.9,"y":-69.4},{"c":"RB3","k":"r","x":216.0,"y":-70},
{"c":"RB4","k":"r","x":227.6,"y":-70},{"c":"RB4","k":"r","x":231.1,"y":-66.5},{"c":"RB4","k":"r","x":238.0,"y":-63.0},{"c":"RB4","k":"r","x":243.8,"y":-61.8},{"c":"RB4","k":"r","x":249.7,"y":-60.1},{"c":"RB4","k":"r","x":254.3,"y":-68.2},{"c":"RB4","k":"r","x":259.5,"y":-64.1},{"c":"RB4","k":"r","x":265.3,"y":-60.1},{"c":"RB4","k":"r","x":270.0,"y":-65.3},{"c":"RB4","k":"r","x":274.6,"y":-68.8},{"c":"RB4","k":"r","x":279.9,"y":-70},
{"c":"RB5","k":"r","x":296.1,"y":-70},{"c":"RB5","k":"r","x":300.2,"y":-65.3},{"c":"RB5","k":"r","x":304.8,"y":-63.5},{"c":"RB5","k":"r","x":308.9,"y":-69.4},
{"c":"RB6","k":"r","x":320.5,"y":-69.4},{"c":"RB6","k":"r","x":323.4,"y":-63.5},{"c":"RB6","k":"r","x":329.2,"y":-61.2},{"c":"RB6","k":"r","x":335.1,"y":-65.3},{"c":"RB6","k":"r","x":340.9,"y":-65.3},{"c":"RB6","k":"r","x":344.4,"y":-60.6},{"c":"RB6","k":"r","x":349.6,"y":-66.5},{"c":"RB6","k":"r","x":354.2,"y":-66.5},{"c":"RB6","k":"r","x":358.9,"y":-64.7},{"c":"RB6","k":"r","x":364.7,"y":-61.2},{"c":"RB6","k":"r","x":368.6,"y":-61.8},
{"c":"RLs1","k":"r","x":-8.9,"y":-10.1},{"c":"RLs1","k":"r","x":-6.0,"y":-5.4},{"c":"RLs1","k":"r","x":1.0,"y":-3.1},{"c":"RLs1","k":"r","x":4.5,"y":-10.1},{"c":"RLs1","k":"r","x":4.5,"y":-21.7},{"c":"RLs1","k":"r","x":1.6,"y":-30.4},{"c":"RLs1","k":"r","x":-6.0,"y":-30.4},{"c":"RLs1","k":"r","x":-8.9,"y":-24.6},{"c":"RLs1","k":"r","x":-10.1,"y":-17.6},{"c":"RLs1","k":"r","x":-8.9,"y":-10.1},
{"c":"RLs2","k":"r","x":-5.4,"y":-9.5},{"c":"RLs2","k":"r","x":-1.9,"y":-6.0},{"c":"RLs2","k":"r","x":2.1,"y":-8.3},{"c":"RLs2","k":"r","x":2.7,"y":-14.1},{"c":"RLs2","k":"r","x":-0.2,"y":-17.6},{"c":"RLs2","k":"r","x":-4.2,"y":-17.0},{"c":"RLs2","k":"r","x":-6.0,"y":-13.5},{"c":"RLs2","k":"r","x":-5.4,"y":-9.5},
{"c":"RL1","k":"r","x":38.2,"y":26.6},{"c":"RL1","k":"r","x":44.6,"y":27.1},{"c":"RL1","k":"r","x":47.5,"y":22.5},{"c":"RL1","k":"r","x":50.4,"y":21.3},{"c":"RL1","k":"r","x":52.7,"y":22.5},{"c":"RL1","k":"r","x":56.8,"y":24.2},{"c":"RL1","k":"r","x":63.7,"y":24.8},{"c":"RL1","k":"r","x":69.0,"y":21.9},{"c":"RL1","k":"r","x":71.3,"y":16.1},{"c":"RL1","k":"r","x":71.3,"y":9.1},{"c":"RL1","k":"r","x":68.4,"y":3.9},{"c":"RL1","k":"r","x":61.4,"y":1.6},{"c":"RL1","k":"r","x":55.6,"y":-0.2},{"c":"RL1","k":"r","x":53.3,"y":-5.4},{"c":"RL1","k":"r","x":51.0,"y":-11.2},{"c":"RL1","k":"r","x":47.5,"y":-15.9},{"c":"RL1","k":"r","x":42.2,"y":-20.0},{"c":"RL1","k":"r","x":38.7,"y":-25.2},{"c":"RL1","k":"r","x":34.7,"y":-29.2},{"c":"RL1","k":"r","x":28.9,"y":-32.2},{"c":"RL1","k":"r","x":21.9,"y":-32.7},{"c":"RL1","k":"r","x":16.7,"y":-30.4},{"c":"RL1","k":"r","x":14.9,"y":-24.6},{"c":"RL1","k":"r","x":16.1,"y":-15.9},{"c":"RL1","k":"r","x":19.0,"y":-8.9},{"c":"RL1","k":"r","x":24.8,"y":-4.8},{"c":"RL1","k":"r","x":31.8,"y":-2.5},{"c":"RL1","k":"r","x":35.3,"y":1.6},{"c":"RL1","k":"r","x":36.4,"y":10.3},{"c":"RL1","k":"r","x":36.4,"y":19.0},{"c":"RL1","k":"r","x":38.2,"y":26.6},
{"c":"RL2","k":"r","x":39.9,"y":23.1},{"c":"RL2","k":"r","x":44.0,"y":23.7},{"c":"RL2","k":"r","x":46.9,"y":20.2},{"c":"RL2","k":"r","x":46.3,"y":16.1},{"c":"RL2","k":"r","x":46.9,"y":7.4},{"c":"RL2","k":"r","x":48.6,"y":3.9},{"c":"RL2","k":"r","x":52.1,"y":4.5},{"c":"RL2","k":"r","x":53.9,"y":8.5},{"c":"RL2","k":"r","x":53.9,"y":17.3},{"c":"RL2","k":"r","x":57.9,"y":21.9},{"c":"RL2","k":"r","x":63.7,"y":22.5},{"c":"RL2","k":"r","x":67.8,"y":19.6},{"c":"RL2","k":"r","x":69.5,"y":14.4},{"c":"RL2","k":"r","x":68.9,"y":8.0},{"c":"RL2","k":"r","x":65.5,"y":4.5},{"c":"RL2","k":"r","x":58.5,"y":3.3},{"c":"RL2","k":"r","x":53.9,"y":2.1},{"c":"RL2","k":"r","x":51.0,"y":-3.7},{"c":"RL2","k":"r","x":48.6,"y":-9.5},{"c":"RL2","k":"r","x":45.1,"y":-13.5},{"c":"RL2","k":"r","x":40.5,"y":-17.6},{"c":"RL2","k":"r","x":37.0,"y":-22.9},{"c":"RL2","k":"r","x":32.9,"y":-26.9},{"c":"RL2","k":"r","x":27.7,"y":-29.8},{"c":"RL2","k":"r","x":21.9,"y":-30.4},{"c":"RL2","k":"r","x":18.4,"y":-28.1},{"c":"RL2","k":"r","x":17.3,"y":-22.9},{"c":"RL2","k":"r","x":18.4,"y":-15.3},{"c":"RL2","k":"r","x":21.3,"y":-10.1},{"c":"RL2","k":"r","x":26.5,"y":-6.6},{"c":"RL2","k":"r","x":32.9,"y":-4.3},{"c":"RL2","k":"r","x":36.4,"y":-0.8},{"c":"RL2","k":"r","x":38.2,"y":7.4},{"c":"RL2","k":"r","x":38.7,"y":16.1},{"c":"RL2","k":"r","x":39.9,"y":23.1},
{"c":"RL3","k":"r","x":40.5,"y":19.0},{"c":"RL3","k":"r","x":45.7,"y":18.4},{"c":"RL3","k":"r","x":48.6,"y":12.6},{"c":"RL3","k":"r","x":49.2,"y":6.8},{"c":"RL3","k":"r","x":51.0,"y":6.2},{"c":"RL3","k":"r","x":52.1,"y":8.0},{"c":"RL3","k":"r","x":52.7,"y":16.7},{"c":"RL3","k":"r","x":57.3,"y":21.3},{"c":"RL3","k":"r","x":63.1,"y":21.9},{"c":"RL3","k":"r","x":67.8,"y":18.4},{"c":"RL3","k":"r","x":69.5,"y":12.0},{"c":"RL3","k":"r","x":67.2,"y":6.8},{"c":"RL3","k":"r","x":61.4,"y":4.5},{"c":"RL3","k":"r","x":55.0,"y":3.9},{"c":"RL3","k":"r","x":51.6,"y":2.7},{"c":"RL3","k":"r","x":49.8,"y":-3.1},{"c":"RL3","k":"r","x":49.2,"y":-8.9},{"c":"RL3","k":"r","x":46.3,"y":-12.4},{"c":"RL3","k":"r","x":42.8,"y":-14.7},{"c":"RL3","k":"r","x":39.9,"y":-17.6},{"c":"RL3","k":"r","x":37.6,"y":-21.7},{"c":"RL3","k":"r","x":35.8,"y":-25.2},{"c":"RL3","k":"r","x":31.2,"y":-26.3},{"c":"RL3","k":"r","x":28.3,"y":-28.1},{"c":"RL3","k":"r","x":24.2,"y":-29.2},{"c":"RL3","k":"r","x":19.6,"y":-27.5},{"c":"RL3","k":"r","x":18.4,"y":-20.0},{"c":"RL3","k":"r","x":20.2,"y":-11.8},{"c":"RL3","k":"r","x":24.8,"y":-7.2},{"c":"RL3","k":"r","x":30.0,"y":-4.3},{"c":"RL3","k":"r","x":34.7,"y":-2.5},{"c":"RL3","k":"r","x":37.0,"y":1.0},{"c":"RL3","k":"r","x":37.6,"y":6.8},{"c":"RL3","k":"r","x":38.7,"y":12.6},{"c":"RL3","k":"r","x":40.5,"y":19.0},
{"c":"RR1","k":"r","x":347.3,"y":-6.0},{"c":"RR1","k":"r","x":353.1,"y":-3.1},{"c":"RR1","k":"r","x":358.9,"y":-3.7},{"c":"RR1","k":"r","x":360.0,"y":-10.1},{"c":"RR1","k":"r","x":361.2,"y":-18.8},{"c":"RR1","k":"r","x":364.7,"y":-23.4},{"c":"RR1","k":"r","x":370.5,"y":-24.0},{"c":"RR1","k":"r","x":374.0,"y":-18.8},{"c":"RR1","k":"r","x":375.1,"y":-12.4},{"c":"RR1","k":"r","x":378.6,"y":-7.2},{"c":"RR1","k":"r","x":384.4,"y":-3.7},{"c":"RR1","k":"r","x":391.4,"y":-0.8},{"c":"RR1","k":"r","x":391.4,"y":-24.6},{"c":"RR1","k":"r","x":385.0,"y":-26.9},{"c":"RR1","k":"r","x":377.5,"y":-30.4},{"c":"RR1","k":"r","x":369.9,"y":-32.2},{"c":"RR1","k":"r","x":361.8,"y":-30.4},{"c":"RR1","k":"r","x":356.6,"y":-27.5},{"c":"RR1","k":"r","x":350.2,"y":-24.0},{"c":"RR1","k":"r","x":346.7,"y":-18.8},{"c":"RR1","k":"r","x":345.5,"y":-12.4},{"c":"RR1","k":"r","x":347.3,"y":-6.0},
{"c":"RR2","k":"r","x":349.0,"y":-7.7},{"c":"RR2","k":"r","x":354.2,"y":-5.4},{"c":"RR2","k":"r","x":359.5,"y":-6.0},{"c":"RR2","k":"r","x":360.0,"y":-8.3},{"c":"RR2","k":"r","x":361.2,"y":-20.5},{"c":"RR2","k":"r","x":365.8,"y":-24.6},{"c":"RR2","k":"r","x":371.7,"y":-25.2},{"c":"RR2","k":"r","x":375.1,"y":-20.5},{"c":"RR2","k":"r","x":377.5,"y":-15.3},{"c":"RR2","k":"r","x":381.6,"y":-10.1},{"c":"RR2","k":"r","x":386.8,"y":-5.4},{"c":"RR2","k":"r","x":391.4,"y":-3.1},{"c":"RR2","k":"r","x":391.4,"y":-21.1},{"c":"RR2","k":"r","x":385.0,"y":-24.6},{"c":"RR2","k":"r","x":378.0,"y":-28.1},{"c":"RR2","k":"r","x":371.1,"y":-29.8},{"c":"RR2","k":"r","x":364.1,"y":-28.1},{"c":"RR2","k":"r","x":357.7,"y":-24.0},{"c":"RR2","k":"r","x":352.5,"y":-20.5},{"c":"RR2","k":"r","x":348.4,"y":-17.0},{"c":"RR2","k":"r","x":347.3,"y":-11.8},{"c":"RR2","k":"r","x":349.0,"y":-7.7},
{"c":"RM1","k":"r","x":161.9,"y":10.3},{"c":"RM1","k":"r","x":163.7,"y":13.2},{"c":"RM1","k":"r","x":166.0,"y":11.4},{"c":"RM1","k":"r","x":165.4,"y":8.0},{"c":"RM1","k":"r","x":162.5,"y":7.4},{"c":"RM1","k":"r","x":161.9,"y":10.3},
{"c":"RM2","k":"r","x":239.2,"y":-5.4},{"c":"RM2","k":"r","x":243.8,"y":-7.2},{"c":"RM2","k":"r","x":248.5,"y":-5.4},{"c":"RM2","k":"r","x":255.5,"y":-5.4},{"c":"RM2","k":"r","x":259.5,"y":-9.5},{"c":"RM2","k":"r","x":258.4,"y":-17.0},{"c":"RM2","k":"r","x":255.5,"y":-26.9},{"c":"RM2","k":"r","x":253.7,"y":-24.6},{"c":"RM2","k":"r","x":250.8,"y":-22.9},{"c":"RM2","k":"r","x":249.7,"y":-25.8},{"c":"RM2","k":"r","x":245.6,"y":-30.4},{"c":"RM2","k":"r","x":239.8,"y":-31.6},{"c":"RM2","k":"r","x":233.4,"y":-29.8},{"c":"RM2","k":"r","x":229.3,"y":-24.6},{"c":"RM2","k":"r","x":228.2,"y":-18.8},{"c":"RM2","k":"r","x":230.5,"y":-13.0},{"c":"RM2","k":"r","x":235.1,"y":-9.5},{"c":"RM2","k":"r","x":239.2,"y":-5.4},
{"c":"RM3","k":"r","x":209.0,"y":-25.8},{"c":"RM3","k":"r","x":214.8,"y":-23.4},{"c":"RM3","k":"r","x":221.2,"y":-24.6},{"c":"RM3","k":"r","x":220.6,"y":-28.7},{"c":"RM3","k":"r","x":214.8,"y":-29.8},{"c":"RM3","k":"r","x":210.1,"y":-28.7},{"c":"RM3","k":"r","x":209.0,"y":-25.8},
{"c":"RG3","k":"r","x":239.2,"y":-18.2},{"c":"RG3","k":"r","x":241.6,"y":-21.1},{"c":"RG3","k":"r","x":241.6,"y":-25.2},{"c":"RG3","k":"r","x":239.2,"y":-27.0},{"c":"RG3","k":"r","x":237.4,"y":-23.4},{"c":"RG3","k":"r","x":237.4,"y":-20.5},{"c":"RG3","k":"r","x":239.2,"y":-18.2}
],
"rules":[
{"x":-29.8,"x2":389.6,"y":70,"y2":70,"g":"#00ff00"},{"x":-29.8,"x2":389.6,"y":0,"y2":0,"g":"#00ff00"},{"x":-29.8,"x2":389.6,"y":-70,"y2":-70,"g":"#00ff00"},{"x":0,"x2":0,"y":-70,"y2":70,"g":"#00ff00"},{"x":180,"x2":180,"y":-70,"y2":70,"g":"#00ff00"},{"x":360,"x2":360,"y":-70,"y2":70,"g":"#a8a8a8"}
],
"ticks":[
{"x":-27.1,"x2":-27.1,"y":89.5,"y2":86.5},{"x":-13.9,"x2":-13.9,"y":89.5,"y2":86.5},{"x":-0.7,"x2":-0.7,"y":89.5,"y2":86.5},{"x":12.5,"x2":12.5,"y":89.5,"y2":86.5},{"x":25.7,"x2":25.7,"y":89.5,"y2":86.5},{"x":38.9,"x2":38.9,"y":89.5,"y2":86.5},{"x":52.1,"x2":52.1,"y":89.5,"y2":86.5},{"x":65.3,"x2":65.3,"y":89.5,"y2":86.5},{"x":78.5,"x2":78.5,"y":89.5,"y2":86.5},{"x":91.7,"x2":91.7,"y":89.5,"y2":86.5},{"x":104.9,"x2":104.9,"y":89.5,"y2":86.5},{"x":118.2,"x2":118.2,"y":89.5,"y2":86.5},{"x":131.4,"x2":131.4,"y":89.5,"y2":86.5},{"x":144.6,"x2":144.6,"y":89.5,"y2":86.5},{"x":157.8,"x2":157.8,"y":89.5,"y2":86.5},{"x":171.0,"x2":171.0,"y":89.5,"y2":86.5},{"x":184.2,"x2":184.2,"y":89.5,"y2":86.5},{"x":197.4,"x2":197.4,"y":89.5,"y2":86.5},{"x":210.6,"x2":210.6,"y":89.5,"y2":86.5},{"x":223.8,"x2":223.8,"y":89.5,"y2":86.5},{"x":237.0,"x2":237.0,"y":89.5,"y2":86.5},{"x":250.2,"x2":250.2,"y":89.5,"y2":86.5},{"x":263.4,"x2":263.4,"y":89.5,"y2":86.5},{"x":276.6,"x2":276.6,"y":89.5,"y2":86.5},{"x":289.8,"x2":289.8,"y":89.5,"y2":86.5},{"x":303.0,"x2":303.0,"y":89.5,"y2":86.5},{"x":316.2,"x2":316.2,"y":89.5,"y2":86.5},{"x":329.4,"x2":329.4,"y":89.5,"y2":86.5},{"x":342.6,"x2":342.6,"y":89.5,"y2":86.5},{"x":355.8,"x2":355.8,"y":89.5,"y2":86.5},{"x":369.1,"x2":369.1,"y":89.5,"y2":86.5},{"x":382.3,"x2":382.3,"y":89.5,"y2":86.5},
{"x":-29.8,"x2":-25.7,"y":70,"y2":70},{"x":-29.8,"x2":-25.7,"y":60,"y2":60},{"x":-29.8,"x2":-25.7,"y":50,"y2":50},{"x":-29.8,"x2":-25.7,"y":40,"y2":40},{"x":-29.8,"x2":-25.7,"y":30,"y2":30},{"x":-29.8,"x2":-25.7,"y":20,"y2":20},{"x":-29.8,"x2":-25.7,"y":10,"y2":10},{"x":-29.8,"x2":-25.7,"y":-10,"y2":-10},{"x":-29.8,"x2":-25.7,"y":-20,"y2":-20},{"x":-29.8,"x2":-25.7,"y":-30,"y2":-30},{"x":-29.8,"x2":-25.7,"y":-40,"y2":-40},{"x":-29.8,"x2":-25.7,"y":-50,"y2":-50},{"x":-29.8,"x2":-25.7,"y":-60,"y2":-60},{"x":-29.8,"x2":-25.7,"y":-70,"y2":-70},{"x":-29.8,"x2":-25.7,"y":-80,"y2":-80},
{"x":385.6,"x2":389.6,"y":70,"y2":70},{"x":385.6,"x2":389.6,"y":60,"y2":60},{"x":385.6,"x2":389.6,"y":50,"y2":50},{"x":385.6,"x2":389.6,"y":40,"y2":40},{"x":385.6,"x2":389.6,"y":30,"y2":30},{"x":385.6,"x2":389.6,"y":20,"y2":20},{"x":385.6,"x2":389.6,"y":10,"y2":10},{"x":385.6,"x2":389.6,"y":0,"y2":0},{"x":385.6,"x2":389.6,"y":-10,"y2":-10},{"x":385.6,"x2":389.6,"y":-20,"y2":-20},{"x":385.6,"x2":389.6,"y":-30,"y2":-30},{"x":385.6,"x2":389.6,"y":-40,"y2":-40},{"x":385.6,"x2":389.6,"y":-50,"y2":-50},{"x":385.6,"x2":389.6,"y":-60,"y2":-60},{"x":385.6,"x2":389.6,"y":-70,"y2":-70},{"x":385.6,"x2":389.6,"y":-80,"y2":-80},
{"x":0,"x2":0,"y":-90.3,"y2":-85.2},{"x":30,"x2":30,"y":-90.3,"y2":-85.2},{"x":60,"x2":60,"y":-90.3,"y2":-85.2},{"x":90,"x2":90,"y":-90.3,"y2":-85.2},{"x":120,"x2":120,"y":-90.3,"y2":-85.2},{"x":150,"x2":150,"y":-90.3,"y2":-85.2},{"x":180,"x2":180,"y":-90.3,"y2":-85.2},{"x":210,"x2":210,"y":-90.3,"y2":-85.2},{"x":240,"x2":240,"y":-90.3,"y2":-85.2},{"x":270,"x2":270,"y":-90.3,"y2":-85.2},{"x":300,"x2":300,"y":-90.3,"y2":-85.2},{"x":330,"x2":330,"y":-90.3,"y2":-85.2},{"x":360,"x2":360,"y":-90.3,"y2":-85.2}
],
"texts":[
{"t":"WSO - Photospheric Magnetic Field","x":-26.9,"y":98.8,"a":"l","s":14},
{"t":"0, ±100, 200, 500, 1000, 2000 MicroTesla","x":175.3,"y":98.8,"a":"l","s":14},
{"t":"JUN 1995","x":-29.2,"y":78.4,"a":"l","s":12},
{"t":"60N","x":-25.2,"y":60,"a":"l","s":14},{"t":"30N","x":-25.2,"y":30,"a":"l","s":14},{"t":"30S","x":-25.2,"y":-30,"a":"l","s":14},{"t":"60S","x":-25.2,"y":-60,"a":"l","s":14},
{"t":"MAY 1995","x":389.4,"y":78.4,"a":"r","s":12},
{"t":"60N","x":385.0,"y":60,"a":"r","s":14},{"t":"30N","x":385.0,"y":30,"a":"r","s":14},{"t":"30S","x":385.0,"y":-30,"a":"r","s":14},{"t":"60S","x":385.0,"y":-60,"a":"r","s":14},
{"t":"14","x":-20.5,"y":86.3,"a":"c","s":13},{"t":"13","x":-7.3,"y":86.3,"a":"c","s":13},{"t":"12","x":5.9,"y":86.3,"a":"c","s":13},{"t":"11","x":19.1,"y":86.3,"a":"c","s":13},{"t":"10","x":32.3,"y":86.3,"a":"c","s":13},{"t":"9","x":45.5,"y":86.3,"a":"c","s":13},{"t":"8","x":58.7,"y":86.3,"a":"c","s":13},{"t":"7","x":71.9,"y":86.3,"a":"c","s":13},{"t":"6","x":85.1,"y":86.3,"a":"c","s":13},{"t":"5","x":98.3,"y":86.3,"a":"c","s":13},{"t":"4","x":111.5,"y":86.3,"a":"c","s":13},{"t":"3","x":124.8,"y":86.3,"a":"c","s":13},{"t":"2","x":138.0,"y":86.3,"a":"c","s":13},{"t":"1","x":151.2,"y":86.3,"a":"c","s":13},{"t":"31","x":164.4,"y":86.3,"a":"c","s":13},{"t":"30","x":177.6,"y":86.3,"a":"c","s":13},{"t":"29","x":190.8,"y":86.3,"a":"c","s":13},{"t":"28","x":204.0,"y":86.3,"a":"c","s":13},{"t":"27","x":217.2,"y":86.3,"a":"c","s":13},{"t":"26","x":230.4,"y":86.3,"a":"c","s":13},{"t":"25","x":243.6,"y":86.3,"a":"c","s":13},{"t":"24","x":256.8,"y":86.3,"a":"c","s":13},{"t":"23","x":270.0,"y":86.3,"a":"c","s":13},{"t":"22","x":283.2,"y":86.3,"a":"c","s":13},{"t":"21","x":296.4,"y":86.3,"a":"c","s":13},{"t":"20","x":309.6,"y":86.3,"a":"c","s":13},{"t":"19","x":322.8,"y":86.3,"a":"c","s":13},{"t":"18","x":336.0,"y":86.3,"a":"c","s":13},{"t":"17","x":349.2,"y":86.3,"a":"c","s":13},{"t":"16","x":362.4,"y":86.3,"a":"c","s":13},{"t":"15","x":375.7,"y":86.3,"a":"c","s":13},
{"t":"0","x":0,"y":-81,"a":"c","s":14},{"t":"30","x":30,"y":-81,"a":"c","s":14},{"t":"60","x":60,"y":-81,"a":"c","s":14},{"t":"90","x":90,"y":-81,"a":"c","s":14},{"t":"120","x":120,"y":-81,"a":"c","s":14},{"t":"150","x":150,"y":-81,"a":"c","s":14},{"t":"180","x":180,"y":-81,"a":"c","s":14},{"t":"210","x":210,"y":-81,"a":"c","s":14},{"t":"240","x":240,"y":-81,"a":"c","s":14},{"t":"270","x":270,"y":-81,"a":"c","s":14},{"t":"300","x":300,"y":-81,"a":"c","s":14},{"t":"330","x":330,"y":-81,"a":"c","s":14},{"t":"360","x":360,"y":-81,"a":"c","s":14},
{"t":"1896","x":180,"y":-97.9,"a":"c","s":18}
],
"marks":[
{"t":"v","x":2.7,"y":70.2},{"t":"v","x":15.5,"y":70.2},{"t":"v","x":27.1,"y":70.2},{"t":"v","x":41.1,"y":70.2},{"t":"v","x":54.4,"y":70.2},{"t":"v","x":79.4,"y":70.2},{"t":"w","x":118.9,"y":70.2},{"t":"v","x":143.9,"y":70.2},{"t":"v","x":160.7,"y":70.2},{"t":"v","x":171.2,"y":70.2},{"t":"w","x":186.3,"y":70.2},{"t":"v","x":198.5,"y":70.2},{"t":"v","x":225.2,"y":70.2},{"t":"v","x":238.6,"y":70.2},{"t":"v","x":251.4,"y":70.2},{"t":"v","x":265.9,"y":70.2},{"t":"v","x":301.9,"y":70.2},{"t":"v","x":318.2,"y":70.2},{"t":"w","x":331.0,"y":70.2},{"t":"w","x":342.6,"y":70.2},{"t":"w","x":356.0,"y":70.2}
]
},
"encoding":{
"x":{"field":"x","type":"quantitative","scale":{"domain":[-29.8,389.6],"nice":false,"zero":false},"axis":null},
"y":{"field":"y","type":"quantitative","scale":{"domain":[-90.3,89.5],"nice":false,"zero":false},"axis":null}
},
"layer":[
{"data":{"name":"fills"},"transform":[{"filter":"datum.f=='d'"}],"mark":{"type":"line","fill":"#a0a0a0","stroke":"#a0a0a0","strokeWidth":0.5,"clip":true},"encoding":{"detail":{"field":"c"},"order":{"value":null}}},
{"data":{"name":"fills"},"transform":[{"filter":"datum.f=='l'"}],"mark":{"type":"line","fill":"#e8e8e8","stroke":"#0000ff","strokeWidth":1.2,"clip":true},"encoding":{"detail":{"field":"c"},"order":{"value":null}}},
{"data":{"name":"lines"},"transform":[{"filter":"datum.k=='k'"}],"mark":{"type":"line","stroke":"black","strokeWidth":1.3,"clip":true},"encoding":{"detail":{"field":"c"},"order":{"value":null}}},
{"data":{"name":"lines"},"transform":[{"filter":"datum.k=='b'"}],"mark":{"type":"line","stroke":"#0000ff","strokeWidth":1.2,"clip":true},"encoding":{"detail":{"field":"c"},"order":{"value":null}}},
{"data":{"name":"lines"},"transform":[{"filter":"datum.k=='r'"}],"mark":{"type":"line","stroke":"#ff0000","strokeWidth":1.4,"strokeDash":[1.5,2.5],"clip":true},"encoding":{"detail":{"field":"c"},"order":{"value":null}}},
{"data":{"name":"fills"},"transform":[{"filter":"datum.f=='w'"}],"mark":{"type":"line","fill":"white","stroke":"black","strokeWidth":1.2,"strokeDash":[3,2],"clip":true},"encoding":{"detail":{"field":"c"},"order":{"value":null}}},
{"data":{"name":"rules"},"mark":{"type":"rule","strokeWidth":1.2},"encoding":{"x2":{"field":"x2"},"y2":{"field":"y2"},"color":{"field":"g","type":"nominal","scale":null}}},
{"data":{"name":"ticks"},"mark":{"type":"rule","color":"black","strokeWidth":1},"encoding":{"x2":{"field":"x2"},"y2":{"field":"y2"}}},
{"data":{"name":"texts"},"transform":[{"filter":"datum.a=='l'"}],"mark":{"type":"text","align":"left","baseline":"middle","font":"Liberation Mono","color":"black"},"encoding":{"text":{"field":"t"},"size":{"field":"s","type":"quantitative","scale":null}}},
{"data":{"name":"texts"},"transform":[{"filter":"datum.a=='c'"}],"mark":{"type":"text","align":"center","baseline":"middle","font":"Liberation Mono","color":"black"},"encoding":{"text":{"field":"t"},"size":{"field":"s","type":"quantitative","scale":null}}},
{"data":{"name":"texts"},"transform":[{"filter":"datum.a=='r'"}],"mark":{"type":"text","align":"right","baseline":"middle","font":"Liberation Mono","color":"black"},"encoding":{"text":{"field":"t"},"size":{"field":"s","type":"quantitative","scale":null}}},
{"data":{"name":"marks"},"mark":{"type":"text","align":"center","baseline":"alphabetic","font":"Liberation Mono","fontSize":9,"color":"black"},"encoding":{"text":{"field":"t"}}}
]
}
